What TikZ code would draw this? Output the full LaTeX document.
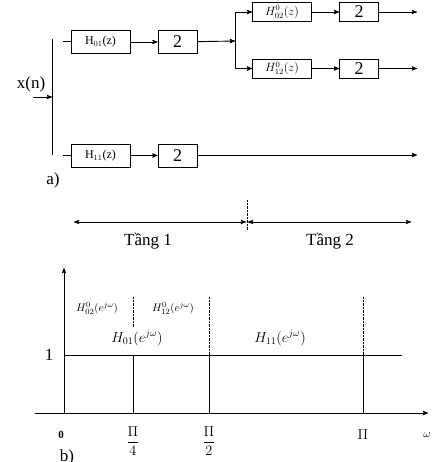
\documentclass[tikz,border=0pt]{standalone}
\usepackage{amsmath}
\usepackage{fontspec}
\setmainfont{Liberation Serif}
\usepackage{tikz}
\usetikzlibrary{arrows,positioning}
\usepackage{amssymb}

\begin{document}
\begin{tikzpicture}[x=1pt,y=-1pt,>=stealth',line width=0.9pt]
  \tikzstyle{filt}=[draw,minimum width=59pt,minimum height=23pt,inner sep=0pt,font=\fontsize{12}{12}\selectfont]
  \tikzstyle{decim}=[draw,minimum width=39pt,minimum height=23pt,inner sep=0pt,font=\fontsize{18}{18}\selectfont]
  \tikzstyle{big}=[font=\fontsize{17}{17}\selectfont]
  \tikzstyle{small}=[font=\fontsize{11}{11}\selectfont]
\useasboundingbox (0,0) rectangle (436,462);
% a) analysis tree
\coordinate (sp1) at (52,39);
\coordinate (sp2) at (52,155);
\node[big] (x) at (31,84) {x(n)};
\coordinate (xin) at (33,97);
\coordinate (xout) at (52,97);
\draw[->] (xin) -- (xout);
\draw (sp1) -- (sp2);
\coordinate (b1) at (63,41);
\node[filt] (h01) at (100.5,42) {H$_{01}$(z)};
\node[decim] (d1) at (177.5,42) {2};
\coordinate (fork) at (235,41);
\node[filt,minimum height=19pt] (h02) at (282,12) {$H^{0}_{02}(z)$};
\node[decim,minimum height=19pt] (d2) at (359,12) {2};
\node[filt,minimum height=19pt] (h12) at (282,68.5) {$H^{0}_{12}(z)$};
\node[decim,minimum height=19pt] (d3) at (359,68.5) {2};
\coordinate (o2) at (417,12);
\coordinate (o3) at (417,68.5);
\coordinate (b2) at (63,155);
\node[filt] (h11) at (100.5,155.5) {H$_{11}$(z)};
\node[decim] (d4) at (177.5,155.5) {2};
\coordinate (o4) at (417,155);
\draw (b1) -- (h01.west |- b1);
\draw[->] (h01) -- (d1);
\draw[->] (d1) -- (fork);
\draw[->] (fork) |- (h02);
\draw[->] (fork) |- (h12);
\draw[->] (h02) -- (d2);
\draw[->] (h12) -- (d3);
\draw[->] (d2) -- (o2);
\draw[->] (d3) -- (o3);
\draw (b2) -- (h11.west |- b2);
\draw[->] (h11) -- (d4);
\draw[->] (d4.east |- o4) -- (o4);
\node[big] (a) at (53,180) {a)};
% stages
\coordinate (st) at (247,200);
\coordinate (sb) at (247,230);
\draw[densely dotted,thin] (st) -- (sb);
\coordinate (t1l) at (74,222);
\coordinate (t1r) at (246,222);
\coordinate (t2l) at (248,222);
\coordinate (t2r) at (411,222);
\draw[<->] (t1l) -- (t1r);
\draw[<->] (t2l) -- (t2r);
\node[big] (tang1) at (148,241) {Tầng 1};
\node[big] (tang2) at (330,241) {Tầng 2};
% b) frequency bands
\coordinate (org) at (64,413);
\coordinate (ytop) at (64,268);
\coordinate (xl) at (35,413);
\coordinate (xr) at (428,413);
\draw[->] (org) -- (ytop);
\draw[->] (xl) -- (xr);
\coordinate (one) at (64,355);
\coordinate (oneend) at (402,355);
\draw (one) -- (oneend);
\foreach \x in {133,209,363}
  \draw (\x,355) -- (\x,413);
\draw[densely dotted,thin] (133,297) -- (133,327);
\draw[densely dotted,thin] (209,297) -- (209,355);
\draw[densely dotted,thin] (363,297) -- (363,355);
\node[big] (lv) at (49,355) {1};
\node[small] (l02) at (97,308) {$H^{0}_{02}(e^{j\omega})$};
\node[small] (l12) at (173,308) {$H^{0}_{12}(e^{j\omega})$};
\node[font=\fontsize{14}{14}\selectfont] (l01) at (137,338) {$H_{01}(e^{j\omega})$};
\node[font=\fontsize{14}{14}\selectfont] (l11) at (280,338) {$H_{11}(e^{j\omega})$};
\node[small] (z) at (61,435) {\textbf{0}};
\node[font=\fontsize{14}{14}\selectfont] (q) at (133,441) {$\dfrac{\Pi}{4}$};
\node[font=\fontsize{14}{14}\selectfont] (h) at (209,441) {$\dfrac{\Pi}{2}$};
\node[font=\fontsize{14}{14}\selectfont] (p) at (363,435) {$\Pi$};
\node[small] (w) at (427,435) {$\omega$};
\node[big] (b) at (67,457) {b)};
\end{tikzpicture}
\end{document}
